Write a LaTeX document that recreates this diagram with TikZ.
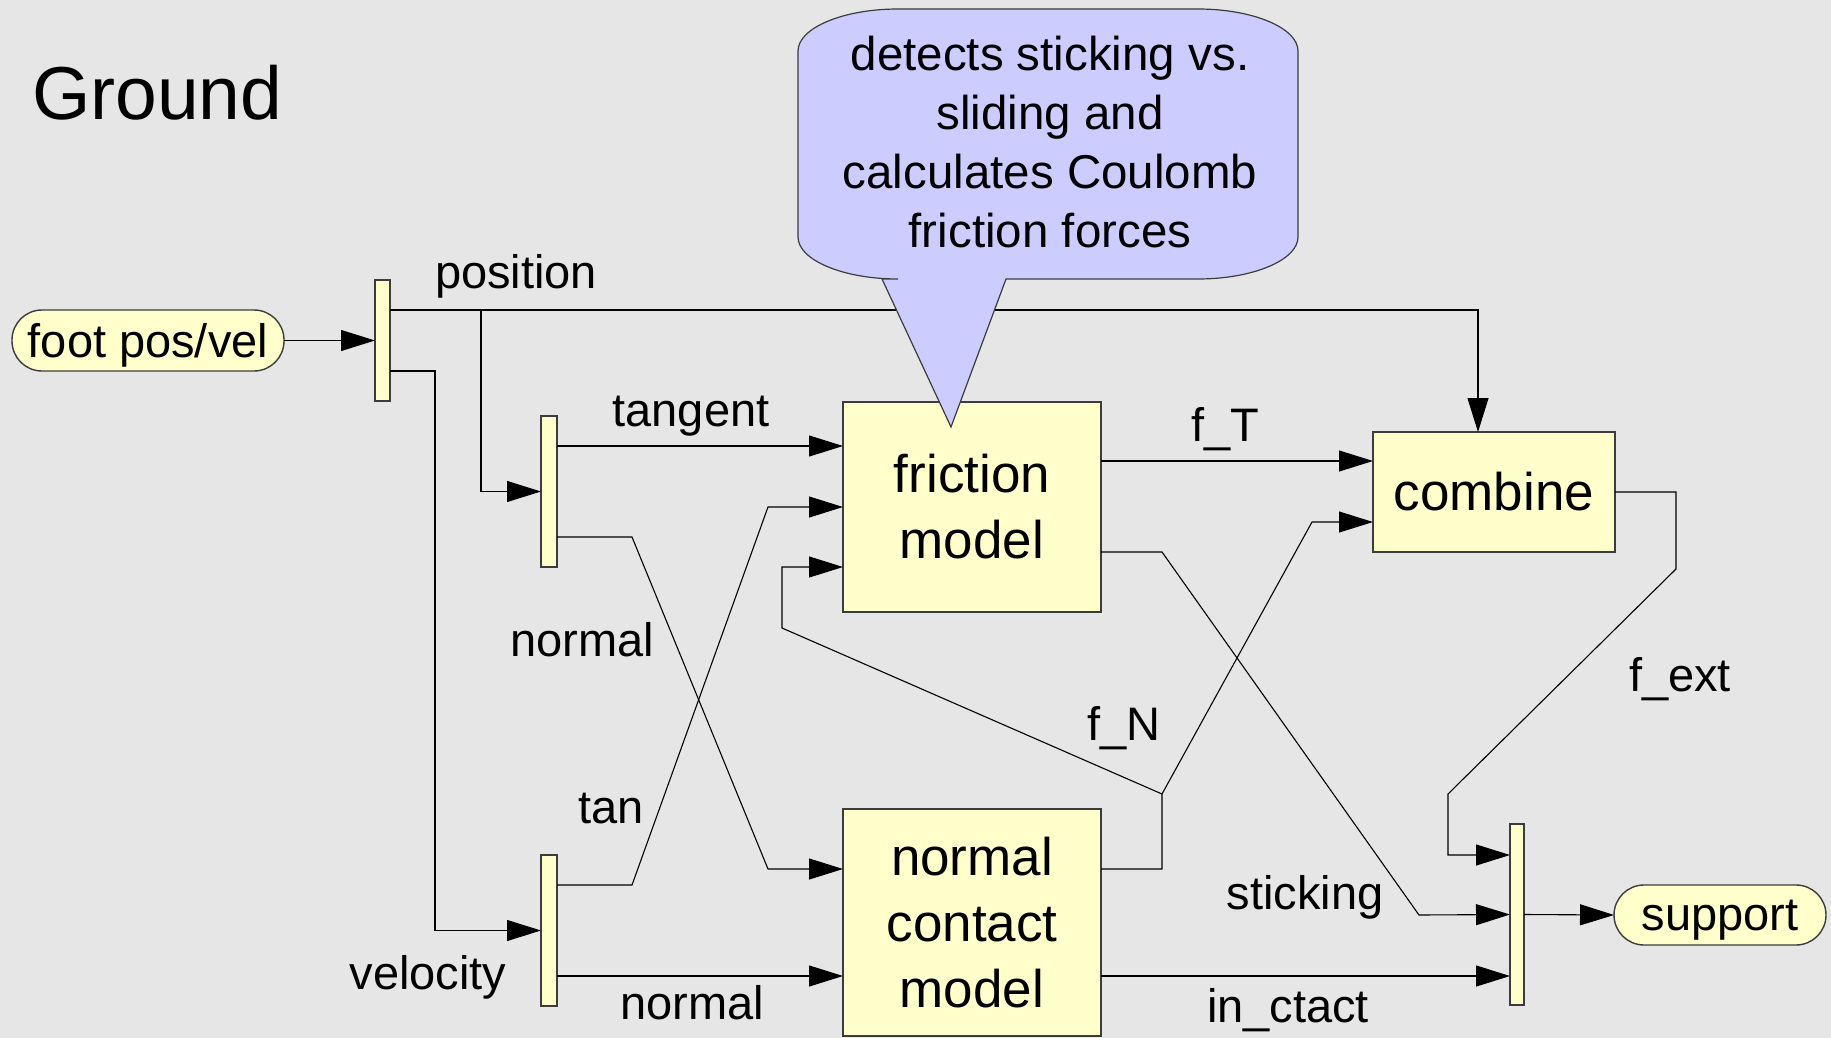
\documentclass[tikz,border=0pt]{standalone}
\usepackage{fontspec}
\setmainfont{Liberation Sans}
\usetikzlibrary{arrows.meta}
\definecolor{bg}{HTML}{E6E6E6}
\definecolor{boxfill}{HTML}{FFFFCC}
\definecolor{notefill}{HTML}{CCCCFF}
\definecolor{edge}{HTML}{3C3C3C}
\begin{document}
\begin{tikzpicture}[x=1pt,y=-1pt,
  wire/.style={line width=1.1pt, black},
  arr/.style={wire, -{Triangle[length=34pt,width=21pt]}},
  blk/.style={draw=edge, line width=1.4pt, fill=boxfill, inner sep=0pt, outer sep=0pt, align=center, font=\fontsize{53}{66}\selectfont},
  bar/.style={draw=edge, line width=1.2pt, fill=boxfill, inner sep=0pt, outer sep=0pt},
  term/.style={blk, rounded corners=30pt, text depth=0pt, font=\fontsize{47}{59}\selectfont},
  lbl/.style={anchor=base, inner sep=0pt, font=\fontsize{47}{59}\selectfont}]
\useasboundingbox (0,0) rectangle (1831,1038);
\fill[bg] (0,0) rectangle (1831,1038);

\node[anchor=base west, inner sep=0pt, font=\fontsize{75}{90}\selectfont] (title) at (32,120) {Ground};

% blocks
\node[term, minimum width=272pt, minimum height=61pt] (foot) at (148,340.5) {foot pos/vel};
\node[bar, minimum width=15pt, minimum height=121pt] (bar1) at (382.5,340.5) {};
\node[bar, minimum width=16pt, minimum height=151pt] (bar2) at (549,491.5) {};
\node[bar, minimum width=16pt, minimum height=151pt] (bar3) at (549,930.5) {};
\node[bar, minimum width=14pt, minimum height=181pt] (bar4) at (1517,914.5) {};
\node[blk, minimum width=258pt, minimum height=210pt] (friction) at (972,507) {friction\\model};
\node[blk, minimum width=258pt, minimum height=227pt] (normalc) at (972,922.5) {normal\\contact\\model};
\node[blk, minimum width=242pt, minimum height=120pt] (combine) at (1494,492) {combine};
\node[term, minimum width=212pt, minimum height=60pt] (support) at (1720,915) {support};

% connectors
\draw[arr] (foot.east) -- (bar1.west);
\coordinate (ptop) at (1478,310);
\draw[arr] (bar1.east |- ptop) -- (ptop) -- (ptop |- combine.north);
\coordinate (pbr) at (481,310);
\draw[arr] (pbr) -- (pbr |- bar2.west) -- (bar2.west);
\coordinate (vel) at (435,371);
\draw[arr] (bar1.east |- vel) -- (vel) -- (vel |- bar3.west) -- (bar3.west);
\draw[arr] (bar2.east |- 0,446) -- (friction.west |- 0,446);
\draw[arr] (bar2.east |- 0,537) -- (632,537) -- (768,869) -- (normalc.west |- 0,869);
\draw[arr] (bar3.east |- 0,885) -- (632,885) -- (768,507) -- (friction.west);
\draw[arr] (bar3.east |- 0,976) -- (normalc.west |- 0,976);
\draw[arr] (friction.east |- 0,461) -- (combine.west |- 0,461);
\coordinate (fn) at (1162,794);
\draw[arr] (normalc.east |- 0,869) -- (1162,869) -- (fn) -- (1312,522) -- (combine.west |- 0,522);
\draw[arr] (fn) -- (782,628) -- (782,567) -- (friction.west |- 0,567);
\draw[arr] (friction.east |- 0,552) -- (1162,552) -- (1419,915) -- (bar4.west);
\draw[arr] (combine.east) -- (1676,492) -- (1676,569) -- (1448,794) -- (1448,855) -- (bar4.west |- 0,855);
\draw[arr] (normalc.east |- 0,976) -- (bar4.west |- 0,976);
\draw[arr] (bar4.east) -- (support.west);

% labels
\node[lbl] (lpos) at (516,288) {position};
\node[lbl] (ltan1) at (691,426) {tangent};
\node[lbl] (lnor1) at (582,656) {normal};
\node[lbl] (ltan2) at (611,823) {tan};
\node[lbl] (lvel) at (428,989) {velocity};
\node[lbl] (lnor2) at (692,1019) {normal};
\node[lbl] (lft) at (1225,441) {f\_T};
\node[lbl] (lfn) at (1124,740) {f\_N};
\node[lbl] (lfext) at (1680,691) {f\_ext};
\node[lbl] (lstick) at (1305,909) {sticking};
\node[lbl] (lctact) at (1288,1022) {in\_ctact};

% callout
\draw[draw=edge, line width=1.2pt, fill=notefill]
  (898,9) -- (1198,9) .. controls (1253,9) and (1298,28) .. (1298,51)
  -- (1298,237) .. controls (1298,260) and (1253,279) .. (1198,279)
  -- (1006,279) -- (951,427) -- (882,279) -- (898,279)
  .. controls (843,279) and (798,260) .. (798,237)
  -- (798,51) .. controls (798,28) and (843,9) .. (898,9) -- cycle;
\node[align=center, inner sep=0pt, font=\fontsize{47.5}{59}\selectfont] (note) at (1050,142) {detects sticking vs.\\sliding and\\calculates Coulomb\\friction forces};
\end{tikzpicture}
\end{document}
